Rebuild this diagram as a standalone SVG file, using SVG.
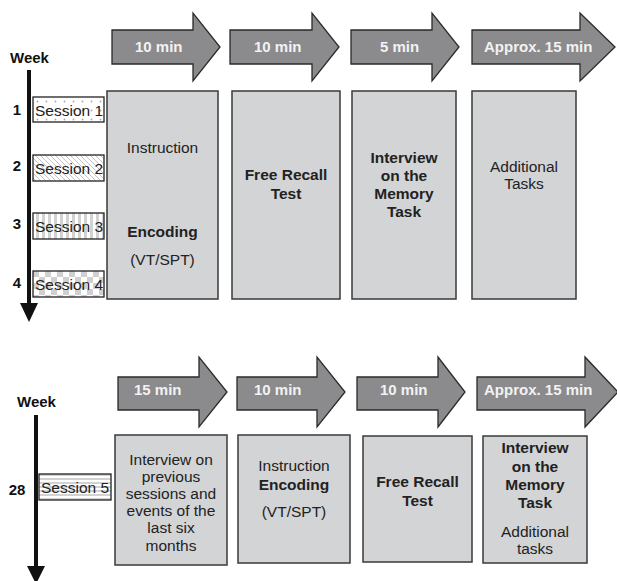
<svg xmlns="http://www.w3.org/2000/svg" width="617" height="581" viewBox="0 0 617 581">
<style>
.arr{fill:#8b8b8d;stroke:#2a2a2a;stroke-width:1.3}
.box{fill:#d3d4d6;stroke:#3a3a3a;stroke-width:1.5}
.sess{stroke:#222;stroke-width:1.3}
.t{font-family:"Liberation Sans",Arial,sans-serif;font-size:15.5px;fill:#222;text-anchor:middle}
.b{font-weight:bold}
.al{font-family:"Liberation Sans",Arial,sans-serif;font-size:15px;font-weight:bold;fill:#f2f2f2}
.wk{font-family:"Liberation Sans",Arial,sans-serif;font-size:15px;font-weight:bold;fill:#111}
.st{font-family:"Liberation Sans",Arial,sans-serif;font-size:15.5px;fill:#222}
</style>
<defs>
<pattern id="pDots" width="9" height="9" patternUnits="userSpaceOnUse" x="33" y="97">
<rect width="9" height="9" fill="#fff"/><circle cx="4.5" cy="4.5" r="0.9" fill="#aaa"/></pattern>
<pattern id="pDiag" width="5" height="5" patternUnits="userSpaceOnUse">
<rect width="5" height="5" fill="#fff"/><path d="M0,0L5,5M-1,4L1,6M4,-1L6,1" stroke="#aaa" stroke-width="0.7"/></pattern>
<pattern id="pVert" width="6" height="6" patternUnits="userSpaceOnUse">
<rect width="6" height="6" fill="#fff"/><rect width="3" height="6" fill="#d2d2d2"/></pattern>
<pattern id="pCheck" width="12" height="12" patternUnits="userSpaceOnUse" x="33" y="271">
<rect width="12" height="12" fill="#fff"/><rect width="6" height="6" fill="#d0d0d0"/><rect x="6" y="6" width="6" height="6" fill="#d0d0d0"/></pattern>
<pattern id="pHor" width="4" height="4" patternUnits="userSpaceOnUse" y="474">
<rect width="4" height="4" fill="#fff"/><rect width="4" height="2" fill="#d2d2d2"/></pattern>
</defs>

<g id="connectors">
<line x1="29" y1="70" x2="29" y2="305" stroke="#111" stroke-width="4"/>
<polygon points="20,303 38,303 29,322" fill="#111"/>
<line x1="36" y1="415" x2="36" y2="568" stroke="#111" stroke-width="4"/>
<polygon points="27,566 45,566 36,584" fill="#111"/>
</g>

<g id="week-top"><text class="wk" x="10" y="63">Week</text></g>
<g id="weeknums-top">
<text class="wk" x="17" y="115" text-anchor="middle">1</text>
<text class="wk" x="17" y="171" text-anchor="middle">2</text>
<text class="wk" x="17" y="229" text-anchor="middle">3</text>
<text class="wk" x="17" y="288" text-anchor="middle">4</text>
</g>

<g id="session1"><rect class="sess" x="33" y="97" width="71" height="25" fill="url(#pDots)"/><text class="st" x="35" y="115.5">Session 1</text></g>
<g id="session2"><rect class="sess" x="33" y="155" width="71" height="26" fill="url(#pDiag)"/><text class="st" x="35" y="174">Session 2</text></g>
<g id="session3"><rect class="sess" x="33" y="213" width="71" height="26" fill="url(#pVert)"/><text class="st" x="35" y="232">Session 3</text></g>
<g id="session4"><rect class="sess" x="33" y="271" width="71" height="26" fill="url(#pCheck)"/><text class="st" x="35" y="290">Session 4</text></g>

<g id="arrow-t1"><polygon class="arr" points="112,30 193,30 193,13 220,47 193,81 193,64 112,64"/><text class="al" x="135" y="52">10 min</text></g>
<g id="arrow-t2"><polygon class="arr" points="230,30 312,30 312,13 339,47 312,81 312,64 230,64"/><text class="al" x="254" y="52">10 min</text></g>
<g id="arrow-t3"><polygon class="arr" points="351,30 432,30 432,13 459,47 432,81 432,64 351,64"/><text class="al" x="380" y="52">5 min</text></g>
<g id="arrow-t4"><polygon class="arr" points="472,30 580,30 580,13 615,47 580,81 580,64 472,64"/><text class="al" x="484" y="52">Approx. 15 min</text></g>

<g id="box-t1"><rect class="box" x="107" y="91" width="111" height="208"/>
<text class="t" x="162.5" y="153">Instruction</text>
<text class="t b" x="162.5" y="237">Encoding</text>
<text class="t" x="162.5" y="265">(VT/SPT)</text></g>
<g id="box-t2"><rect class="box" x="232" y="91" width="108" height="208"/>
<text class="t b" x="286" y="180">Free Recall</text>
<text class="t b" x="286" y="199">Test</text></g>
<g id="box-t3"><rect class="box" x="352" y="91" width="104" height="208"/>
<text class="t b" x="404" y="163">Interview</text>
<text class="t b" x="404" y="181">on the</text>
<text class="t b" x="404" y="199">Memory</text>
<text class="t b" x="404" y="217">Task</text></g>
<g id="box-t4"><rect class="box" x="472" y="91" width="104" height="208"/>
<text class="t" x="524" y="172">Additional</text>
<text class="t" x="524" y="189">Tasks</text></g>

<g id="week-bottom"><text class="wk" x="17" y="407">Week</text></g>
<g id="weeknum-28"><text class="wk" x="17" y="495" text-anchor="middle">28</text></g>
<g id="session5"><rect class="sess" x="39" y="474" width="72" height="26" fill="url(#pHor)"/><text class="st" x="41" y="493">Session 5</text></g>

<g id="arrow-b1"><polygon class="arr" points="118,377 199,377 199,357 227,392 199,427 199,410 118,410"/><text class="al" x="134" y="395">15 min</text></g>
<g id="arrow-b2"><polygon class="arr" points="237,377 317,377 317,357 345,392 317,427 317,410 237,410"/><text class="al" x="254" y="395">10 min</text></g>
<g id="arrow-b3"><polygon class="arr" points="357,377 438,377 438,357 465,392 438,427 438,410 357,410"/><text class="al" x="380" y="395">10 min</text></g>
<g id="arrow-b4"><polygon class="arr" points="477,377 585,377 585,357 618,392 585,427 585,410 477,410"/><text class="al" x="484" y="395">Approx. 15 min</text></g>

<g id="box-b1"><rect class="box" x="115" y="435" width="112" height="130"/>
<text class="t" x="171" y="465">Interview on</text>
<text class="t" x="171" y="482">previous</text>
<text class="t" x="171" y="499">sessions and</text>
<text class="t" x="171" y="516">events of the</text>
<text class="t" x="171" y="533">last six</text>
<text class="t" x="171" y="551">months</text></g>
<g id="box-b2"><rect class="box" x="238" y="435" width="112" height="128"/>
<text class="t" x="294" y="471">Instruction</text>
<text class="t b" x="294" y="490">Encoding</text>
<text class="t" x="294" y="517">(VT/SPT)</text></g>
<g id="box-b3"><rect class="box" x="363" y="436" width="109" height="126"/>
<text class="t b" x="417.5" y="487">Free Recall</text>
<text class="t b" x="417.5" y="506">Test</text></g>
<g id="box-b4"><rect class="box" x="483" y="436" width="104" height="127"/>
<text class="t b" x="535" y="453">Interview</text>
<text class="t b" x="535" y="472">on the</text>
<text class="t b" x="535" y="490">Memory</text>
<text class="t b" x="535" y="508">Task</text>
<text class="t" x="535" y="537">Additional</text>
<text class="t" x="535" y="554">tasks</text></g>
</svg>
